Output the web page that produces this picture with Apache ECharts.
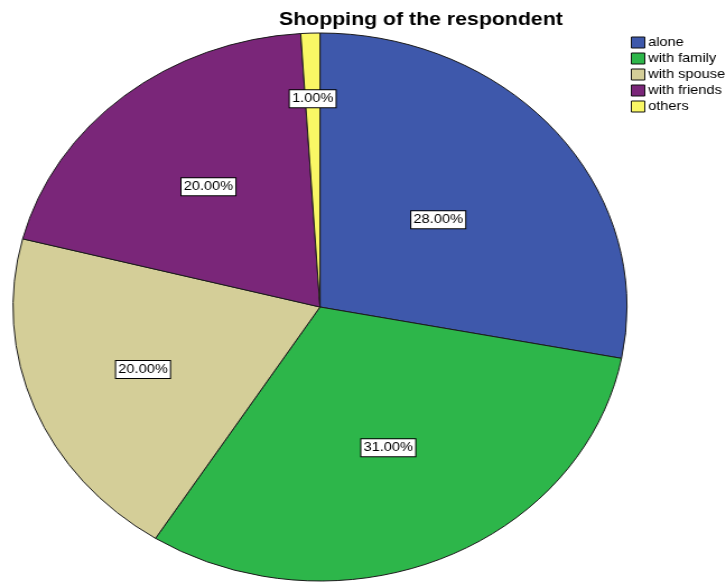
<!DOCTYPE html>
<html>
<head>
<meta charset="utf-8">
<script src="https://cdn.jsdelivr.net/npm/echarts@6/dist/echarts.min.js"></script>
<style>
  html, body { margin: 0; padding: 0; background: #fff; overflow: hidden; }
  #wrap { width: 726px; height: 583px; overflow: hidden; }
  /* the chart is drawn on a narrower canvas and stretched sideways,
     which turns the round pie into a wide ellipse */
  #chart { width: 648px; height: 583px; transform: scaleX(1.1204); transform-origin: 0 0; }
</style>
</head>
<body>
<div id="wrap"><div id="chart"></div></div>
<script>
// Shopping companions (percent of respondents)
const categories = ['alone', 'with family', 'with spouse', 'with friends', 'others'];
const percents = [28, 31, 20, 20, 1];
const sliceColors = ['#3e58ab', '#2db64a', '#d4ce98', '#7a2679', '#f9f765'];
const titleText = 'Shopping of the respondent';

// pie geometry (unstretched canvas pixels)
const CX = 285.6, CY = 307, R = 274;
// how far out along each slice's middle its percentage box sits (0 = centre, 1 = rim)
const labelReach = [0.5, 0.56, 0.62, 0.57, 0.76];

const total = percents.reduce((a, b) => a + b, 0);
const midAngles = [];
let acc = 0;
percents.forEach(v => {
  midAngles.push(((acc + v / 2) / total) * 2 * Math.PI);
  acc += v;
});

const chart = echarts.init(document.getElementById('chart'), null, { renderer: 'canvas' });
chart.setOption({
  animation: false,
  backgroundColor: '#fff',
  title: {
    text: titleText,
    left: 244,
    top: 5,
    textStyle: { fontFamily: 'Liberation Sans, Arial, sans-serif', fontSize: 19, fontWeight: 'bold', color: '#000' }
  },
  legend: {
    orient: 'vertical',
    left: 563,
    top: 36,
    icon: 'rect',
    itemWidth: 12,
    itemHeight: 11,
    itemGap: 3,
    padding: 0,
    data: categories,
    itemStyle: { borderColor: '#111', borderWidth: 1 },
    textStyle: { fontFamily: 'Liberation Sans, Arial, sans-serif', fontSize: 13, color: '#000', padding: [0, 0, 0, -2] },
    selectedMode: false
  },
  series: [{
    type: 'pie',
    center: [CX, CY],
    radius: R,
    startAngle: 90,
    clockwise: true,
    avoidLabelOverlap: false,
    silent: true,
    itemStyle: { borderColor: '#1b1b1b', borderWidth: 1 },
    label: {
      show: true,
      position: 'inside',
      formatter: p => p.value.toFixed(2) + '%',
      fontFamily: 'Liberation Sans, Arial, sans-serif',
      fontSize: 13,
      color: '#000',
      backgroundColor: '#fff',
      borderColor: '#000',
      borderWidth: 1,
      padding: [2, 2, 2, 2]
    },
    labelLine: { show: false },
    labelLayout: p => {
      const a = midAngles[p.dataIndex];
      const f = labelReach[p.dataIndex];
      return {
        x: CX + R * f * Math.sin(a),
        y: CY - R * f * Math.cos(a),
        align: 'center',
        verticalAlign: 'middle'
      };
    },
    emphasis: { disabled: true },
    data: categories.map((name, i) => ({
      name,
      value: percents[i],
      itemStyle: { color: sliceColors[i] }
    }))
  }]
});
</script>
</body>
</html>
